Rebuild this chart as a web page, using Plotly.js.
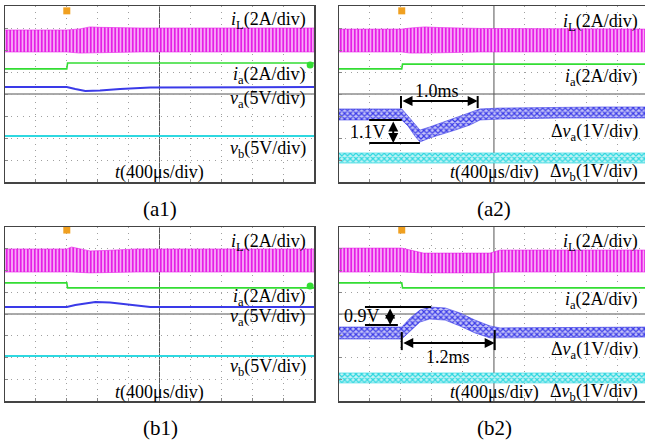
<!DOCTYPE html>
<html><head><meta charset="utf-8">
<script src="https://cdn.plot.ly/plotly-3.0.1.min.js"></script>
<style>html,body{margin:0;padding:0;background:#fff}#g{width:645px;height:443px}</style>
</head><body><div id="g"></div>
<script>
// time in ms (400 µs/div), vertical values in screen divisions (centre = 0)
// ---- (a1) ----
const a1_iL_t  = [0, 0.80, 0.97, 1.10, 1.23, 1.75, 4.0];
const a1_iL_hi = [2.91, 2.91, 2.96, 3.05, 3.03, 3.0, 3.0];
const a1_iL_lo = [1.91, 1.91, 1.86, 1.86, 1.89, 1.91, 1.91];
const a1_ia_t  = [0, 0.80, 0.81, 4.0];
const a1_ia_y  = [1.14, 1.14, 1.41, 1.41];
const a1_va_t  = [0, 0.80, 0.91, 1.04, 1.23, 1.49, 1.88, 4.0];
const a1_va_y  = [0.32, 0.32, 0.23, 0.14, 0.16, 0.23, 0.29, 0.32];
const a1_vb_t  = [0, 4.0];
const a1_vb_y  = [-1.91, -1.91];
// ---- (a2) ----
const a2_iL_t  = [0, 0.81, 0.92, 1.11, 1.30, 1.82, 3.95];
const a2_iL_hi = [2.95, 2.95, 3.0, 3.05, 3.02, 2.98, 2.95];
const a2_iL_lo = [1.91, 1.91, 1.86, 1.86, 1.86, 1.91, 1.91];
const a2_ia_t  = [0, 0.81, 0.82, 3.95];
const a2_ia_y  = [1.14, 1.14, 1.36, 1.36];
const a2_va_t  = [0, 0.81, 0.89, 0.98, 1.045, 1.17, 1.50, 1.69, 1.82, 2.08, 2.85, 3.37, 3.95];
const a2_va_hi = [-0.68, -0.68, -1.0, -1.36, -1.64, -1.5, -1.09, -0.86, -0.68, -0.64, -0.59, -0.59, -0.59];
const a2_va_lo = [-1.18, -1.18, -1.45, -1.91, -2.18, -2.0, -1.64, -1.41, -1.18, -1.14, -1.09, -1.09, -1.09];
const a2_vb_t  = [0, 3.95];
const a2_vb_hi = [-2.68, -2.68];
const a2_vb_lo = [-3.14, -3.14];
// ---- (b1) ----
const b1_iL_t  = [0, 0.80, 0.86, 1.10, 1.30, 1.70, 4.0];
const b1_iL_hi = [2.99, 2.99, 3.08, 2.9, 2.92, 2.99, 2.99];
const b1_iL_lo = [1.93, 1.93, 1.93, 1.89, 1.89, 1.93, 1.93];
const b1_ia_t  = [0, 0.80, 0.81, 4.0];
const b1_ia_y  = [1.43, 1.43, 1.20, 1.20];
const b1_va_t  = [0, 0.80, 0.91, 1.17, 1.36, 1.62, 1.88, 4.0];
const b1_va_y  = [0.32, 0.32, 0.41, 0.55, 0.53, 0.41, 0.32, 0.32];
const b1_vb_t  = [0, 4.0];
const b1_vb_y  = [-1.93, -1.93];
// ---- (b2) ----
const b2_iL_t  = [0, 0.81, 1.09, 1.95, 2.08, 3.95];
const b2_iL_hi = [3.03, 3.03, 2.8, 2.8, 2.94, 2.94];
const b2_iL_lo = [1.93, 1.93, 1.89, 1.89, 1.93, 1.93];
const b2_ia_t  = [0, 0.81, 0.82, 3.95];
const b2_ia_y  = [1.43, 1.43, 1.20, 1.20];
const b2_va_t  = [0, 0.81, 0.92, 1.045, 1.17, 1.37, 1.56, 1.755, 1.95, 2.08, 3.95];
const b2_va_hi = [-0.60, -0.60, -0.18, 0.18, 0.32, 0.28, 0.05, -0.28, -0.55, -0.64, -0.60];
const b2_va_lo = [-1.15, -1.15, -0.78, -0.37, -0.23, -0.28, -0.55, -0.87, -1.10, -1.10, -1.06];
const b2_vb_t  = [0, 3.95];
const b2_vb_hi = [-2.71, -2.71];
const b2_vb_lo = [-3.17, -3.17];

const labelsA1 = ['<i>i</i><sub>L</sub>(2A/div)', '<i>i</i><sub>a</sub>(2A/div)', '<i>v</i><sub>a</sub>(5V/div)', '<i>v</i><sub>b</sub>(5V/div)', '<i>t</i>(400μs/div)'];
const labelsA2 = ['<i>i</i><sub>L</sub>(2A/div)', '<i>i</i><sub>a</sub>(2A/div)', 'Δ<i>v</i><sub>a</sub>(1V/div)', 'Δ<i>v</i><sub>b</sub>(1V/div)', '<i>t</i>(400μs/div)'];
const captions = ['(a1)', '(a2)', '(b1)', '(b2)'];

const MAG = '#e61ee6', GRN = '#33dd33', BLU = '#3a3ae8', CYN = '#2ed8e0', ORG = '#f0a020';
const FONT = 'Liberation Serif, Times New Roman, serif';
const FS = 18;

function band(t, hi, lo, color, bg, ax, shape, size) {
  return {x: t.concat(t.slice().reverse()), y: hi.concat(lo.slice().reverse()),
    xaxis: 'x' + ax, yaxis: 'y' + ax, mode: 'lines', fill: 'toself',
    line: {color: color, width: 0.6}, fillcolor: bg,
    fillpattern: {shape: shape, fgcolor: color, bgcolor: bg, size: size, solidity: 0.5},
    hoverinfo: 'skip', showlegend: false};
}
function line(t, y, color, ax, w) {
  return {x: t, y: y, xaxis: 'x' + ax, yaxis: 'y' + ax, mode: 'lines',
    line: {color: color, width: w}, hoverinfo: 'skip', showlegend: false};
}
function marks(xs, ys, colors, symbols, ax) {
  return {x: xs, y: ys, xaxis: 'x' + ax, yaxis: 'y' + ax, mode: 'markers', cliponaxis: false,
    marker: {color: colors, symbol: symbols, size: 7}, hoverinfo: 'skip', showlegend: false};
}

const traces = [
  band(a1_iL_t, a1_iL_hi, a1_iL_lo, MAG, '#f7a8f7', '', '|', 3.5),
  line(a1_ia_t, a1_ia_y, GRN, '', 1.6),
  line(a1_va_t, a1_va_y, BLU, '', 2),
  line(a1_vb_t, a1_vb_y, CYN, '', 2),
  marks([-0.05, -0.05, -0.05, 0.80, 3.95], [1.0, -1.95, -3.0, 3.78, 1.32], [GRN, BLU, CYN, ORG, GRN], ['triangle-right', 'triangle-right', 'circle', 'square', 'circle'], ''),

  band(a2_iL_t, a2_iL_hi, a2_iL_lo, MAG, '#f7a8f7', '2', '|', 3.5),
  line(a2_ia_t, a2_ia_y, GRN, '2', 1.6),
  band(a2_va_t, a2_va_hi, a2_va_lo, BLU, '#c4c4f7', '2', 'x', 4),
  band(a2_vb_t, a2_vb_hi, a2_vb_lo, CYN, '#c4f3f5', '2', 'x', 4),
  marks([-0.08, -0.08, -0.08, 0.81], [1.05, -1.0, -3.05, 3.78], ['#7fbf7f', BLU, CYN, ORG], ['triangle-right', 'triangle-right', 'triangle-right', 'square'], '2'),

  band(b1_iL_t, b1_iL_hi, b1_iL_lo, MAG, '#f7a8f7', '3', '|', 3.5),
  line(b1_ia_t, b1_ia_y, GRN, '3', 1.6),
  line(b1_va_t, b1_va_y, BLU, '3', 2),
  line(b1_vb_t, b1_vb_y, CYN, '3', 2),
  marks([-0.05, -0.05, -0.05, 0.80, 3.95], [1.01, -1.98, -2.99, 3.86, 1.29], [GRN, BLU, CYN, ORG, GRN], ['triangle-right', 'triangle-right', 'circle', 'square', 'circle'], '3'),

  band(b2_iL_t, b2_iL_hi, b2_iL_lo, MAG, '#f7a8f7', '4', '|', 3.5),
  line(b2_ia_t, b2_ia_y, GRN, '4', 1.6),
  band(b2_va_t, b2_va_hi, b2_va_lo, BLU, '#c4c4f7', '4', 'x', 4),
  band(b2_vb_t, b2_vb_hi, b2_vb_lo, CYN, '#c4f3f5', '4', 'x', 4),
  marks([-0.08, -0.08, -0.08, 0.81], [1.01, -0.97, -2.99, 3.86], ['#7fbf7f', BLU, CYN, ORG], ['triangle-right', 'triangle-right', 'triangle-right', 'square'], '4')
];

const W = 645, H = 443;
function xax(l, r, range) {
  return {domain: [l / W, r / W], range: range, dtick: 0.4, tick0: 0, showgrid: true,
    gridcolor: '#a0a0a0', griddash: '1px,5px', gridwidth: 1, zeroline: false, showticklabels: false,
    showline: true, mirror: true, linecolor: '#444', linewidth: 1.5, ticks: 'inside', ticklen: 3,
    tickcolor: '#888', fixedrange: true};
}
function yax(top, bot, anchor) {
  return {domain: [1 - bot / H, 1 - top / H], range: [-4, 4], dtick: 1, tick0: 0, showgrid: true,
    gridcolor: '#a0a0a0', griddash: '1px,5px', gridwidth: 1, zeroline: false, showticklabels: false,
    showline: true, mirror: true, linecolor: '#444', linewidth: 1.5, ticks: 'inside', ticklen: 3,
    tickcolor: '#888', anchor: anchor, fixedrange: true};
}

const shapes = [];
[['x', 'y', 4.0], ['x2', 'y2', 3.95], ['x3', 'y3', 4.0], ['x4', 'y4', 3.95]].forEach(([xr, yr, xm]) => {
  shapes.push({type: 'line', xref: xr, yref: yr, x0: 2, x1: 2, y0: -4, y1: 4, line: {color: '#555', width: 1}, layer: 'below'});
  shapes.push({type: 'line', xref: xr, yref: yr, x0: 0, x1: xm, y0: 0, y1: 0, line: {color: '#555', width: 1}, layer: 'below'});
});
function seg(xr, yr, x0, y0, x1, y1) {
  shapes.push({type: 'line', xref: xr, yref: yr, x0: x0, x1: x1, y0: y0, y1: y1, line: {color: '#000', width: 2}});
}
// (a2) 1.0ms and 1.1V markings
seg('x2', 'y2', 0.80, -0.09, 0.80, -0.64);
seg('x2', 'y2', 1.79, -0.09, 1.79, -0.64);
seg('x2', 'y2', 0.39, -1.18, 0.81, -1.18);
seg('x2', 'y2', 0.39, -2.23, 1.045, -2.23);
// (b2) 0.9V and 1.2ms markings
seg('x4', 'y4', 0.335, 0.32, 1.19, 0.32);
seg('x4', 'y4', 0.335, -0.51, 0.76, -0.51);
seg('x4', 'y4', 0.81, -0.83, 0.81, -1.66);
seg('x4', 'y4', 2.01, -0.74, 2.01, -1.66);

const ann = [];
function txt(xr, yr, x, y, text, xa) {
  ann.push({xref: xr, yref: yr, x: x, y: y, text: text, showarrow: false, xanchor: xa, yanchor: 'middle',
    font: {family: FONT, size: FS, color: '#000'}});
}
function arrow(xr, yr, x0, y0, x1, y1) {
  ann.push({xref: xr, yref: yr, axref: xr, ayref: yr, x: x1, y: y1, ax: x0, ay: y0, text: '',
    showarrow: true, arrowhead: 2, arrowside: 'end+start', arrowsize: 1, arrowwidth: 2, arrowcolor: '#000', standoff: 0, startstandoff: 0});
}
// (a1)
txt('x', 'y', 3.92, 3.36, labelsA1[0], 'right');
txt('x', 'y', 3.92, 0.82, labelsA1[1], 'right');
txt('x', 'y', 3.92, -0.27, labelsA1[2], 'right');
txt('x', 'y', 3.92, -2.5, labelsA1[3], 'right');
txt('x', 'y', 2.0, -3.55, labelsA1[4], 'center');
// (a2)
txt('x2', 'y2', 3.89, 3.27, labelsA2[0], 'right');
txt('x2', 'y2', 3.89, 0.73, labelsA2[1], 'right');
txt('x2', 'y2', 3.89, -1.77, labelsA2[2], 'right');
txt('x2', 'y2', 3.89, -3.55, labelsA2[3], 'right');
txt('x2', 'y2', 2.01, -3.55, labelsA2[4], 'center');
txt('x2', 'y2', 1.26, 0.14, '1.0ms', 'center');
txt('x2', 'y2', 0.63, -1.72, '1.1V', 'right');
arrow('x2', 'y2', 0.80, -0.32, 1.79, -0.32);
arrow('x2', 'y2', 0.70, -1.18, 0.70, -2.23);
// (b1)
txt('x3', 'y3', 3.92, 3.31, labelsA1[0], 'right');
txt('x3', 'y3', 3.92, 0.78, labelsA1[1], 'right');
txt('x3', 'y3', 3.92, -0.18, labelsA1[2], 'right');
txt('x3', 'y3', 3.92, -2.48, labelsA1[3], 'right');
txt('x3', 'y3', 2.0, -3.59, labelsA1[4], 'center');
// (b2)
txt('x4', 'y4', 3.89, 3.31, labelsA2[0], 'right');
txt('x4', 'y4', 3.89, 0.64, labelsA2[1], 'right');
txt('x4', 'y4', 3.89, -1.66, labelsA2[2], 'right');
txt('x4', 'y4', 3.89, -3.59, labelsA2[3], 'right');
txt('x4', 'y4', 2.01, -3.59, labelsA2[4], 'center');
txt('x4', 'y4', 0.56, -0.1, '0.9V', 'right');
txt('x4', 'y4', 1.41, -1.98, '1.2ms', 'center');
arrow('x4', 'y4', 0.66, 0.32, 0.66, -0.51);
arrow('x4', 'y4', 0.81, -1.33, 2.01, -1.33);
// captions
[[160, 209], [494, 209], [160, 428], [494, 428]].forEach(([px, py], i) => {
  ann.push({xref: 'paper', yref: 'paper', x: px / W, y: 1 - py / H, text: captions[i], showarrow: false,
    xanchor: 'center', yanchor: 'middle', font: {family: FONT, size: 21, color: '#000'}});
});

const layout = {
  width: W, height: H, margin: {l: 0, r: 0, t: 0, b: 0}, paper_bgcolor: '#fff', plot_bgcolor: '#fff',
  showlegend: false,
  xaxis: xax(5, 314, [0, 4.0]), yaxis: yax(6, 182, 'x'),
  xaxis2: xax(339, 645, [0, 3.95]), yaxis2: yax(6, 182, 'x2'),
  xaxis3: xax(5, 314, [0, 4.0]), yaxis3: yax(227, 401, 'x3'),
  xaxis4: xax(339, 645, [0, 3.95]), yaxis4: yax(227, 401, 'x4'),
  shapes: shapes, annotations: ann
};
layout.xaxis.anchor = 'y'; layout.xaxis2.anchor = 'y2'; layout.xaxis3.anchor = 'y3'; layout.xaxis4.anchor = 'y4';
Plotly.newPlot('g', traces, layout, {staticPlot: true, displayModeBar: false});
</script></body></html>
